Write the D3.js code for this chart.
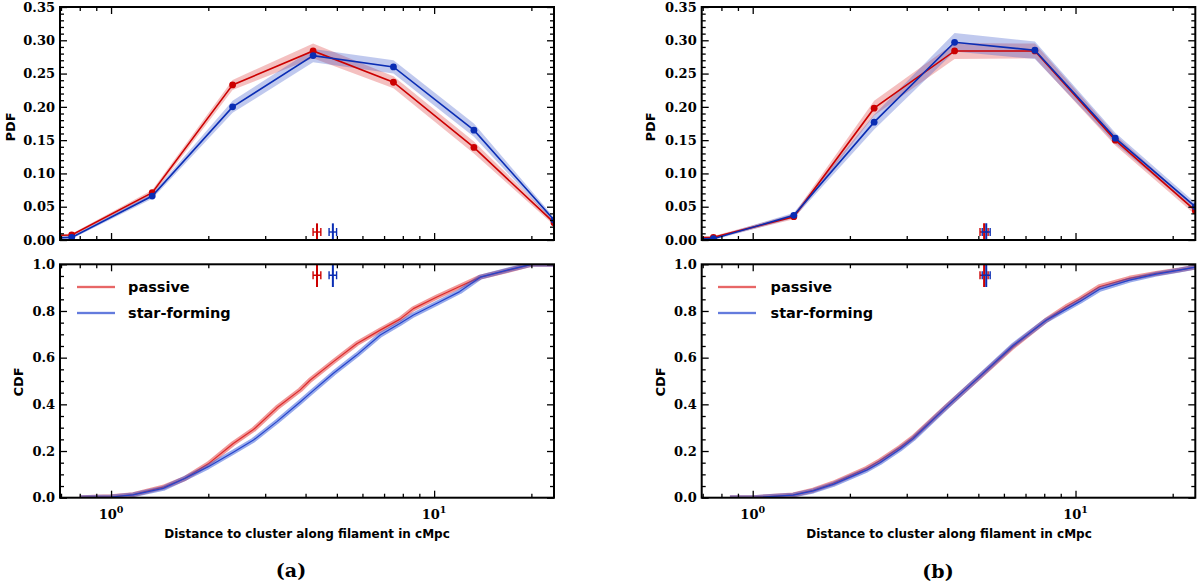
<!DOCTYPE html>
<html><head><meta charset="utf-8">
<script src="https://cdn.jsdelivr.net/npm/d3@7"></script>
<style>body{margin:0;background:#fff} svg{display:block}</style>
</head><body>
<svg id="c" width="1200" height="588"></svg>
<script>
// ---------------- DATA ----------------
// log-spaced bin centres (first one lies outside the visible range)
const binCenters = [0.426, 0.7555, 1.341, 2.378, 4.221, 7.484, 13.28, 23.5];

// panel (a)
const pdfPassiveA    = [0.005, 0.0075, 0.071, 0.233, 0.284, 0.237, 0.139, 0.026];
const pdfPassiveErrA = [0.002, 0.002, 0.004, 0.0075, 0.011, 0.009, 0.009, 0.004];
const pdfSFA         = [0.000, 0.004, 0.066, 0.200, 0.277, 0.260, 0.165, 0.030];
const pdfSFErrA      = [0.002, 0.002, 0.004, 0.009, 0.010, 0.010, 0.010, 0.004];

// panel (b)
const pdfPassiveB    = [0.002, 0.004, 0.035, 0.198, 0.284, 0.284, 0.150, 0.044];
const pdfPassiveErrB = [0.002, 0.002, 0.004, 0.011, 0.012, 0.011, 0.008, 0.006];
const pdfSFB         = [0.000, 0.002, 0.037, 0.177, 0.297, 0.285, 0.153, 0.050];
const pdfSFErrB      = [0.002, 0.002, 0.004, 0.011, 0.014, 0.013, 0.008, 0.006];

// CDF curves (a)
const cdfXA        = [0.80, 1.00, 1.17, 1.45, 1.69, 2.00, 2.39, 2.76, 3.26, 3.85, 4.13, 4.88, 5.76, 6.81, 7.85, 8.63, 10.2, 12.0, 13.9, 17.2, 20.0, 23.5];
const cdfPassiveA  = [0.000, 0.004, 0.013, 0.045, 0.082, 0.145, 0.232, 0.292, 0.385, 0.462, 0.503, 0.583, 0.660, 0.718, 0.765, 0.810, 0.860, 0.905, 0.945, 0.976, 1.000, 1.000];
const cdfSFA       = [0.000, 0.003, 0.012, 0.040, 0.082, 0.133, 0.195, 0.247, 0.326, 0.410, 0.447, 0.533, 0.611, 0.697, 0.747, 0.783, 0.833, 0.883, 0.945, 0.978, 1.000, 1.000];

// CDF curves (b)
const cdfXB        = [0.85, 1.00, 1.335, 1.54, 1.776, 2.252, 2.476, 2.855, 3.139, 3.982, 5.048, 6.40, 8.12, 9.36, 10.29, 11.87, 14.69, 17.78, 20.98, 23.5];
const cdfPassiveB  = [0.000, 0.000, 0.012, 0.032, 0.062, 0.125, 0.158, 0.215, 0.258, 0.390, 0.518, 0.647, 0.761, 0.818, 0.850, 0.904, 0.940, 0.961, 0.976, 0.988];
const cdfSFB       = [0.000, 0.000, 0.011, 0.029, 0.057, 0.118, 0.150, 0.208, 0.252, 0.388, 0.520, 0.652, 0.760, 0.808, 0.840, 0.893, 0.932, 0.958, 0.975, 0.988];

// mean distance markers [passive, star-forming]
const meanA    = [4.34, 4.86];
const meanB    = [5.21, 5.29];
const meanErrA = [0.12, 0.13];
const meanErrB = [0.15, 0.15];
const meanPdfLevel = 0.012, meanPdfHalf = 0.013;
const meanCdfLevel = 0.953, meanCdfHalf = 0.05;

// ticks & labels
const xMajorTicks = [1, 10];
const xMinorTicks = [0.7, 0.8, 0.9, 2, 3, 4, 5, 6, 7, 8, 9, 20];
const xTickBase = ["10", "10"];
const xTickExp = ["0", "1"];
const pdfTicks = [0, 0.05, 0.10, 0.15, 0.20, 0.25, 0.30, 0.35];
const cdfTicks = [0, 0.2, 0.4, 0.6, 0.8, 1.0];
const legendLabels = ["passive", "star-forming"];
const xTitle = "Distance to cluster along filament in cMpc";
const captions = ["(a)", "(b)"];

// ---------------- STYLE / LAYOUT ----------------
const lineCol = ["#cc0000", "#0a2db4"];
const bandCol = ["rgba(220,45,45,0.30)", "rgba(45,75,200,0.30)"];
const cdfBandCol = ["rgba(225,50,50,0.50)", "rgba(50,85,215,0.50)"];
const cdfLineCol = ["#dd2a2a", "#2444cc"];
const xDomain = [0.695, 23.5];
const pdfRange = [240, 7];
const cdfRange = [497.7, 264.3];
const layout = [
  {x0: 60, x1: 554, pdfLab: [10, 127], cdfLab: [18, 382], cap: [291, 577], xt: 307, leg: [77, 115, 128]},
  {x0: 701.7, x1: 1195.3, pdfLab: [650, 127], cdfLab: [659.5, 382], cap: [938, 578], xt: 949, leg: [718, 756, 770.5]}
];
const panelData = [
  {pdf: [pdfPassiveA, pdfSFA], err: [pdfPassiveErrA, pdfSFErrA], cdfX: cdfXA, cdf: [cdfPassiveA, cdfSFA], mean: meanA, meanErr: meanErrA},
  {pdf: [pdfPassiveB, pdfSFB], err: [pdfPassiveErrB, pdfSFErrB], cdfX: cdfXB, cdf: [cdfPassiveB, cdfSFB], mean: meanB, meanErr: meanErrB}
];

const svg = d3.select("#c");
const serif = "'DejaVu Serif', serif";
const sans = "'DejaVu Sans', sans-serif";

function frameAxes(g, x, y, top, bottom, majorY, minorY, fmt, withXLabels) {
  const addAxis = (axis, tr) => {
    const a = g.append("g").attr("transform", tr).call(axis);
    a.select(".domain").remove();
    a.selectAll("line").attr("stroke", "#000").attr("stroke-width", 1.3);
    return a;
  };
  const x0 = x.range()[0], x1 = x.range()[1];
  addAxis(d3.axisBottom(x).tickValues(xMajorTicks).tickSize(-7).tickFormat(""), `translate(0,${bottom})`);
  addAxis(d3.axisBottom(x).tickValues(xMinorTicks).tickSize(-4).tickFormat(""), `translate(0,${bottom})`);
  addAxis(d3.axisTop(x).tickValues(xMajorTicks).tickSize(-7).tickFormat(""), `translate(0,${top})`);
  addAxis(d3.axisTop(x).tickValues(xMinorTicks).tickSize(-4).tickFormat(""), `translate(0,${top})`);
  const la = addAxis(d3.axisLeft(y).tickValues(majorY).tickSize(-7).tickPadding(5).tickFormat(d3.format(fmt)), `translate(${x0},0)`);
  la.selectAll("text").attr("font-family", serif).attr("font-weight", "bold").attr("font-size", 13).attr("fill", "#000");
  addAxis(d3.axisLeft(y).tickValues(minorY).tickSize(-4).tickFormat(""), `translate(${x0},0)`);
  addAxis(d3.axisRight(y).tickValues(majorY).tickSize(-7).tickFormat(""), `translate(${x1},0)`);
  addAxis(d3.axisRight(y).tickValues(minorY).tickSize(-4).tickFormat(""), `translate(${x1},0)`);
  g.append("rect").attr("x", x0).attr("y", top).attr("width", x1 - x0).attr("height", bottom - top)
    .attr("fill", "none").attr("stroke", "#000").attr("stroke-width", 2);
  if (withXLabels) {
    xMajorTicks.forEach((t, i) => {
      const tx = g.append("text").attr("x", x(t)).attr("y", bottom + 21).attr("text-anchor", "middle")
        .attr("font-family", serif).attr("font-weight", "bold").attr("font-size", 13);
      tx.append("tspan").text(xTickBase[i]);
      tx.append("tspan").attr("dy", -6).attr("font-size", 9.5).text(xTickExp[i]);
    });
  }
}

function minorRange(lo, hi, step, majors) {
  return d3.range(Math.round((hi - lo) / step) + 1).map(i => +(lo + i * step).toFixed(4))
    .filter(v => !majors.some(m => Math.abs(m - v) < 1e-6));
}

layout.forEach((L, pi) => {
  const D = panelData[pi];
  const g = svg.append("g");
  const x = d3.scaleLog().domain(xDomain).range([L.x0, L.x1]);
  const yP = d3.scaleLinear().domain([0, 0.35]).range(pdfRange);
  const yC = d3.scaleLinear().domain([0, 1]).range(cdfRange);

  const cpP = "clipP" + pi, cpC = "clipC" + pi;
  const defs = svg.append("defs");
  defs.append("clipPath").attr("id", cpP).append("rect")
    .attr("x", L.x0).attr("y", pdfRange[1]).attr("width", L.x1 - L.x0).attr("height", pdfRange[0] - pdfRange[1]);
  defs.append("clipPath").attr("id", cpC).append("rect")
    .attr("x", L.x0).attr("y", cdfRange[1]).attr("width", L.x1 - L.x0).attr("height", cdfRange[0] - cdfRange[1]);

  // ---- PDF panel ----
  const gp = g.append("g").attr("clip-path", `url(#${cpP})`);
  [0, 1].forEach(s => {
    const pts = binCenters.map((b, i) => ({x: b, v: D.pdf[s][i], e: D.err[s][i]}));
    gp.append("path").datum(pts)
      .attr("d", d3.area().x(d => x(d.x)).y0(d => yP(d.v - d.e)).y1(d => yP(d.v + d.e)))
      .attr("fill", bandCol[s]).attr("stroke", "none");
  });
  [0, 1].forEach(s => {
    const pts = binCenters.map((b, i) => ({x: b, v: D.pdf[s][i]}));
    gp.append("path").datum(pts)
      .attr("d", d3.line().x(d => x(d.x)).y(d => yP(d.v)))
      .attr("fill", "none").attr("stroke", lineCol[s]).attr("stroke-width", 1.6);
    gp.selectAll(null).data(pts).join("circle")
      .attr("cx", d => x(d.x)).attr("cy", d => yP(d.v)).attr("r", 3.4).attr("fill", lineCol[s]);
  });

  // ---- CDF panel ----
  const gc = g.append("g").attr("clip-path", `url(#${cpC})`);
  [0, 1].forEach(s => {
    const pts = D.cdfX.map((b, i) => ({x: b, v: D.cdf[s][i]}));
    const ln = d3.line().x(d => x(d.x)).y(d => yC(d.v));
    gc.append("path").datum(pts).attr("d", ln).attr("fill", "none")
      .attr("stroke", cdfBandCol[s]).attr("stroke-width", 5).attr("stroke-linejoin", "round");
    gc.append("path").datum(pts).attr("d", ln).attr("fill", "none")
      .attr("stroke", cdfLineCol[s]).attr("stroke-width", 1.2).attr("stroke-linejoin", "round");
  });

  // ---- mean markers ----
  const drawMean = (grp, yS, level, half) => {
    [0, 1].forEach(s => {
      const m = D.mean[s], e = D.meanErr[s];
      grp.append("line").attr("x1", x(m)).attr("x2", x(m)).attr("y1", yS(level - half)).attr("y2", yS(level + half))
        .attr("stroke", lineCol[s]).attr("stroke-width", 2);
      grp.append("line").attr("x1", x(m - e)).attr("x2", x(m + e)).attr("y1", yS(level)).attr("y2", yS(level))
        .attr("stroke", lineCol[s]).attr("stroke-width", 1.4);
      [m - e, m + e].forEach(c => grp.append("line").attr("x1", x(c)).attr("x2", x(c))
        .attr("y1", yS(level) - 4).attr("y2", yS(level) + 4).attr("stroke", lineCol[s]).attr("stroke-width", 1.4));
    });
  };
  drawMean(gp, yP, meanPdfLevel, meanPdfHalf);
  drawMean(gc, yC, meanCdfLevel, meanCdfHalf);

  // ---- axes ----
  frameAxes(g, x, yP, pdfRange[1], pdfRange[0], pdfTicks, minorRange(0, 0.35, 0.01, pdfTicks), ".2f", false);
  frameAxes(g, x, yC, cdfRange[1], cdfRange[0], cdfTicks, minorRange(0, 1, 0.05, cdfTicks), ".1f", true);

  // ---- legend ----
  legendLabels.forEach((lab, i) => {
    const ly = 287 + i * 26;
    g.append("line").attr("x1", L.leg[0]).attr("x2", L.leg[1]).attr("y1", ly).attr("y2", ly)
      .attr("stroke", cdfBandCol[i]).attr("stroke-width", 2.4);
    g.append("line").attr("x1", L.leg[0]).attr("x2", L.leg[1]).attr("y1", ly).attr("y2", ly)
      .attr("stroke", cdfLineCol[i]).attr("stroke-width", 0.9);
    g.append("text").attr("x", L.leg[2]).attr("y", ly + 5).text(lab)
      .attr("font-family", sans).attr("font-weight", "bold").attr("font-size", 14.5).attr("fill", "#000");
  });

  // ---- axis titles ----
  g.append("text").attr("transform", `translate(${L.pdfLab[0] + 5},${L.pdfLab[1]}) rotate(-90)`)
    .attr("text-anchor", "middle").attr("font-family", sans).attr("font-weight", "bold").attr("font-size", 13).text("PDF");
  g.append("text").attr("transform", `translate(${L.cdfLab[0] + 5},${L.cdfLab[1]}) rotate(-90)`)
    .attr("text-anchor", "middle").attr("font-family", sans).attr("font-weight", "bold").attr("font-size", 13).text("CDF");
  g.append("text").attr("x", L.xt).attr("y", 538).attr("text-anchor", "middle")
    .attr("font-family", sans).attr("font-weight", "bold").attr("font-size", 12).text(xTitle);
  g.append("text").attr("x", L.cap[0]).attr("y", L.cap[1]).attr("text-anchor", "middle")
    .attr("font-family", serif).attr("font-weight", "bold").attr("font-size", 19).text(captions[pi]);
});
</script>
</body></html>
